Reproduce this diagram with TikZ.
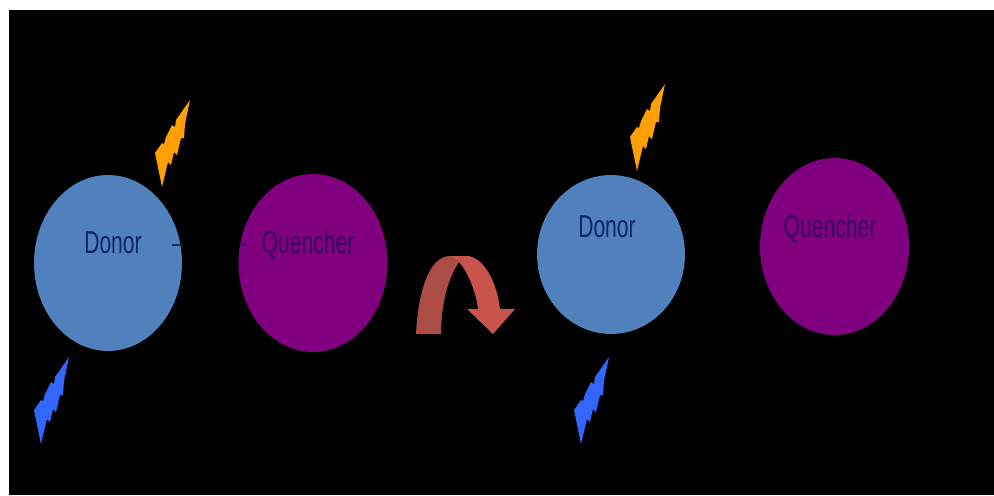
\documentclass[tikz,border=0pt]{standalone}
\usepackage{fontspec}
\setmainfont{Liberation Sans}
\usetikzlibrary{shapes.geometric}
\definecolor{donorblue}{RGB}{80,129,189}
\definecolor{quenchpurple}{RGB}{128,0,128}
\definecolor{boltorange}{RGB}{255,160,0}
\definecolor{boltblue}{RGB}{51,102,255}
\definecolor{curveleft}{RGB}{172,76,70}
\definecolor{curveright}{RGB}{201,84,78}
\definecolor{donortext}{RGB}{14,38,104}
\definecolor{quenchtext}{RGB}{52,0,98}
\tikzset{
  donorball/.style={ellipse,fill=donorblue,inner sep=0pt,minimum width=2.96cm},
  quenchball/.style={ellipse,fill=quenchpurple,inner sep=0pt,minimum width=2.98cm},
  balltext/.style={anchor=base,inner sep=0pt,font=\fontsize{12}{14}\selectfont,yscale=1.5,transform shape},
  tickline/.style={donortext,line width=0.6pt},
  bolt/.pic={
    \fill[pic actions] (0,0) -- (-14,20) -- (-15,27) -- (-18,25) -- (-24,37) -- (-26,44) -- (-28,43) -- (-35,53)
      -- (-28,87) -- (-22,62) -- (-19,65) -- (-16,52) -- (-13,55) -- (-9,38) -- (-6,38) -- (-5,24) -- cycle;
  }
}
\begin{document}
\begin{tikzpicture}[x=0.02cm,y=-0.02cm]
\useasboundingbox (0,0) rectangle (994,495);
\fill[black] (9,10) rectangle (994,495);
\node[donorball,minimum height=3.52cm] (donorA) at (108,263) {};
\node[quenchball,minimum height=3.56cm] (quenchA) at (313,263) {};
\node[donorball,minimum height=3.18cm] (donorB) at (611,254.5) {};
\node[quenchball,minimum height=3.54cm] (quenchB) at (834.5,246.5) {};
\node[balltext,text=donortext] (donorAtext) at (113,253.5) {Donor};
\node[balltext,text=quenchtext] (quenchAtext) at (308,253.5) {Quencher};
\node[balltext,text=donortext] (donorBtext) at (607,237) {Donor};
\node[balltext,text=quenchtext] (quenchBtext) at (830,237) {Quencher};
\coordinate (tickAa) at (172,245);
\coordinate (tickAb) at (182,245);
\coordinate (tickBa) at (241,245);
\coordinate (tickBb) at (246,245);
\draw[tickline] (tickAa) -- (tickAb);
\draw[tickline] (tickBa) -- (tickBb);
\pic[fill=boltorange] at (190,100) {bolt};
\pic[fill=boltorange] at (665,84) {bolt};
\pic[fill=boltblue] at (69,357) {bolt};
\pic[fill=boltblue] at (609,357) {bolt};
\fill[curveleft] (416,334) .. controls (418,295) and (428,256) .. (450,256)
  -- (459,262) .. controls (448,278) and (441,305) .. (441,334) -- cycle;
\fill[curveright] (450,256) -- (468,256) .. controls (484,258) and (497,282) .. (500,309)
  -- (515,309) -- (493,334) -- (467,309) -- (478,309) .. controls (476,292) and (468,272) .. (459,262) -- cycle;
\end{tikzpicture}
\end{document}
